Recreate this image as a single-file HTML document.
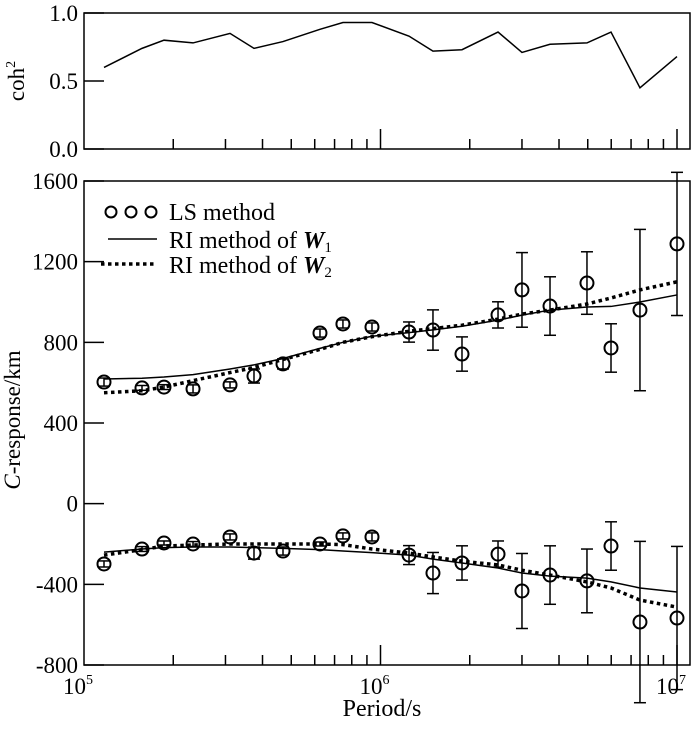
<!DOCTYPE html>
<html><head><meta charset="utf-8"><style>
html,body{margin:0;padding:0;background:#fff}
svg text{font-family:"Liberation Serif",serif;fill:#000}
</style></head><body>
<svg id="chart" width="700" height="724" viewBox="0 0 700 724" xmlns="http://www.w3.org/2000/svg">
<g id="topPanel"></g>
<g id="botPanel"></g>
<text x="20" y="420" font-size="23" text-anchor="middle" transform="rotate(-90 20 420)"><tspan font-style="italic">C</tspan>-response/km</text>
<text x="24" y="81" font-size="23" text-anchor="middle" transform="rotate(-90 24 81)">coh<tspan font-size="14" dy="-9">2</tspan></text>
<text x="382" y="716" font-size="24" text-anchor="middle">Period/s</text>
<g>
<circle cx="111" cy="212" r="5.5" fill="none" stroke="#000" stroke-width="2"/>
<circle cx="131" cy="212" r="5.5" fill="none" stroke="#000" stroke-width="2"/>
<circle cx="151" cy="212" r="5.5" fill="none" stroke="#000" stroke-width="2"/>
<text x="169" y="220" font-size="24">LS method</text>
<line x1="108" y1="239" x2="157" y2="239" stroke="#000" stroke-width="1.5"/>
<text x="169" y="248" font-size="24">RI method of <tspan font-weight="bold" font-style="italic">W</tspan><tspan font-size="15" dy="4">1</tspan></text>
<line x1="101" y1="264" x2="157" y2="264" stroke="#000" stroke-width="3.5" stroke-dasharray="3.5 3.5"/>
<text x="169" y="273" font-size="24">RI method of <tspan font-weight="bold" font-style="italic">W</tspan><tspan font-size="15" dy="4">2</tspan></text>
</g>
</svg>
<script>
const periods=[1.168e5,1.569e5,1.861e5,2.332e5,3.108e5,3.744e5,4.69e5,6.25e5,7.47e5,9.36e5,1.248e6,1.503e6,1.883e6,2.491e6,3.0e6,3.73e6,4.97e6,5.99e6,7.5e6,1.0e7];
const coh=[0.60,0.74,0.80,0.78,0.85,0.74,0.79,0.88,0.93,0.93,0.83,0.72,0.73,0.86,0.71,0.77,0.78,0.86,0.45,0.68];
const upperLS=[603,574,578,569,589,633,693,846,891,876,851,861,742,936,1060,980,1094,772,960,1288];
const upperErr=[20,12,12,20,15,35,25,20,20,20,50,100,85,65,185,145,155,120,400,355];
const lowerLS=[-299,-225,-195,-200,-165,-245,-235,-200,-160,-165,-255,-344,-294,-250,-433,-354,-383,-210,-587,-567];
const lowerErr=[15,12,10,12,15,30,20,10,15,20,47,102,85,65,186,145,158,120,400,355];
const upperW1=[618,622,628,640,668,688,720,770,800,830,848,862,880,910,935,960,975,978,1000,1035];
const upperW2=[550,560,578,610,650,675,715,765,800,828,855,868,885,915,940,960,990,1020,1060,1100];
const lowerW1=[-240,-225,-218,-215,-215,-218,-222,-228,-235,-243,-255,-275,-294,-319,-344,-359,-369,-388,-418,-438];
const lowerW2=[-255,-228,-210,-205,-200,-200,-200,-200,-203,-225,-245,-264,-285,-304,-330,-354,-388,-418,-478,-513];
const cohTicks=[0,0.5,1.0];
const cTicks=[-800,-400,0,400,800,1200,1600];

const NS='http://www.w3.org/2000/svg';
const X0=84,DEC=296.5,XR=690;
const xs=p=>X0+DEC*Math.log10(p/1e5);
const yTop=v=>149-136*v;
const yBot=v=>665-(v+800)*484/2400;
function mk(parent,tag,attrs){const e=document.createElementNS(NS,tag);for(const k in attrs)e.setAttribute(k,attrs[k]);parent.appendChild(e);return e;}
const gTop=document.getElementById('topPanel'),gBot=document.getElementById('botPanel');

function frame(g,y1,y2,name){
  const r=mk(g,'rect',{x:X0,y:y1,width:XR-X0,height:y2-y1,fill:'none',stroke:'#000','stroke-width':1.5});
  
  
  for(let d=0;d<2;d++)for(let m=1;m<=10;m++){
    if(m===1&&d>0)continue;
    const x=xs(m*Math.pow(10,5+d));const len=(m===1||m===10)?20:10;
    if(x<=X0+1)continue;
    const t=mk(g,'line',{x1:x,y1:y2,x2:x,y2:y2-len,stroke:'#000','stroke-width':1.5});
    
    
  }
}
frame(gTop,13,149,'coherence-frame');
frame(gBot,181,665,'c-response-frame');

cohTicks.forEach(v=>{
  const y=yTop(v);
  const t=mk(gTop,'line',{x1:X0,y1:y,x2:X0+20,y2:y,stroke:'#000','stroke-width':1.5});
  
  
  const l=mk(gTop,'text',{x:78,y:y+8,'font-size':23,'text-anchor':'end'});l.textContent=v.toFixed(1);
  
  
});
cTicks.forEach(v=>{
  const y=yBot(v);
  const t=mk(gBot,'line',{x1:X0,y1:y,x2:X0+20,y2:y,stroke:'#000','stroke-width':1.5});
  
  
  const l=mk(gBot,'text',{x:78,y:y+8,'font-size':23,'text-anchor':'end'});l.textContent=String(v);
  
  
});
[5,6,7].forEach(e=>{
  const x=xs(Math.pow(10,e));
  const l=mk(gBot,'text',{x:x-6,y:694,'font-size':23,'text-anchor':'middle'});
  l.innerHTML='10<tspan font-size="14" dy="-10">'+e+'</tspan>';
  
  
});

const cp=mk(gTop,'polyline',{points:periods.map((p,i)=>xs(p)+','+yTop(coh[i])).join(' '),fill:'none',stroke:'#000','stroke-width':1.5});



function line(arr,dashed,name){
  const e=mk(gBot,'polyline',{points:periods.map((p,i)=>xs(p)+','+yBot(arr[i])).join(' '),fill:'none',stroke:'#000','stroke-width':dashed?3.5:1.5});
  if(dashed)e.setAttribute('stroke-dasharray','3.5 3.5');
  
  
}
line(upperW1,false,'upper-w1-line');line(upperW2,true,'upper-w2-line');
line(lowerW1,false,'lower-w1-line');line(lowerW2,true,'lower-w2-line');

function pts(vals,errs,name){
  periods.forEach((p,i)=>{
    const x=xs(p),y=yBot(vals[i]);
    const y1=yBot(vals[i]+errs[i]),y2=yBot(vals[i]-errs[i]);
    const g=mk(gBot,'g',{});
    
    
    mk(g,'line',{x1:x,y1:y1,x2:x,y2:y2,stroke:'#000','stroke-width':1.5});
    mk(g,'line',{x1:x-6,y1:y1,x2:x+6,y2:y1,stroke:'#000','stroke-width':1.5});
    mk(g,'line',{x1:x-6,y1:y2,x2:x+6,y2:y2,stroke:'#000','stroke-width':1.5});
    mk(g,'circle',{cx:x,cy:y,r:6.5,fill:'none',stroke:'#000','stroke-width':2});
  });
}
pts(upperLS,upperErr,'upper-ls-point');
pts(lowerLS,lowerErr,'lower-ls-point');
</script>
</body></html>
